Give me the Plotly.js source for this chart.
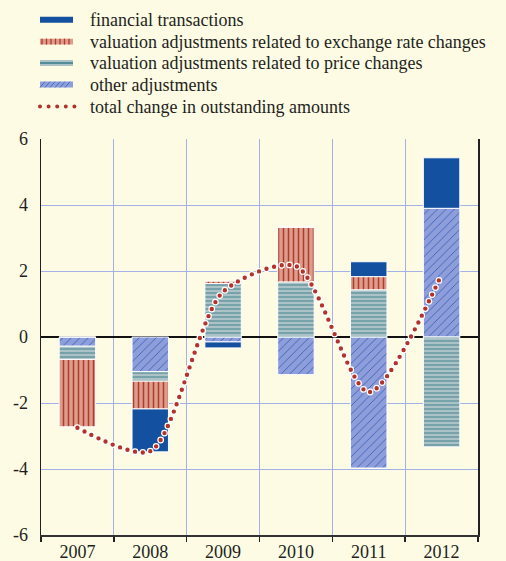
<!DOCTYPE html>
<html>
<head>
<meta charset="utf-8">
<script src="https://cdn.plot.ly/plotly-3.0.1.min.js"></script>
<style>
html,body{margin:0;padding:0;background:#fdfbe4;}
#chart .scatterlayer .js-line{stroke-linecap:round !important;}
</style>
</head>
<body>
<div id="chart" style="width:506px;height:561px;"></div>
<script>
// ---- data ----
const years = ['2007','2008','2009','2010','2011','2012'];
const financialTransactions = [0, -1.30, -0.18, 0, 0.45, 1.53];
const exchangeRateAdj = [-2.04, -0.84, 0.07, 1.66, 0.40, 0];
const priceAdj = [-0.40, -0.29, 1.62, 1.67, 1.43, -3.33];
const otherAdj = [-0.28, -1.05, -0.15, -1.14, -3.97, 3.90];
const totalChange = [-2.75, -3.46, 1.37, 2.15, -1.67, 1.89];
const yTicks = [-6, -4, -2, 0, 2, 4, 6];
const legendLabels = [
  'financial transactions',
  'valuation adjustments related to exchange rate changes',
  'valuation adjustments related to price changes',
  'other adjustments',
  'total change in outstanding amounts'
];

// ---- styles ----
const FONT = 'Liberation Serif, Times New Roman, serif';
const FS = 18;
const TXT = '#231f20';
const BG = '#fdfbe4';
const GRID = '#a3b1e6';
const C_FIN = '#1450a0';
const C_EXB = '#dd9d8c', C_EXF = '#b03a2c';
const C_PRB = '#abc3c6', C_PRF = '#548c98';
const C_OTB = '#8e9edb', C_OTF = '#3a62b8';
const C_TOT = '#b3322a';
const barLine = {color: 'rgba(255,255,255,0.95)', width: 1};

const traces = [
  {type:'bar', x: years, y: otherAdj, width: 0.5, showlegend:false, hoverinfo:'skip',
   marker:{color: C_OTB, line: barLine,
     pattern:{shape:'/', bgcolor:C_OTB, fgcolor:C_OTF, size:6, solidity:0.15}}},
  {type:'bar', x: years, y: priceAdj, width: 0.5, showlegend:false, hoverinfo:'skip',
   marker:{color: C_PRB, line: barLine,
     pattern:{shape:'-', bgcolor:C_PRB, fgcolor:C_PRF, size:4, solidity:0.3}}},
  {type:'bar', x: years, y: exchangeRateAdj, width: 0.5, showlegend:false, hoverinfo:'skip',
   marker:{color: C_EXB, line: barLine,
     pattern:{shape:'|', bgcolor:C_EXB, fgcolor:C_EXF, size:5, solidity:0.3}}},
  {type:'bar', x: years, y: financialTransactions, width: 0.5, showlegend:false, hoverinfo:'skip',
   marker:{color: C_FIN, line: barLine}},
  {type:'scatter', mode:'lines', x: years, y: totalChange, showlegend:false, hoverinfo:'skip',
   line:{color:'#ffffff', width:6.8, shape:'spline', smoothing:0.75, dash:'0px,7.8px'}},
  {type:'scatter', mode:'lines', x: years, y: totalChange, showlegend:false, hoverinfo:'skip',
   line:{color:C_TOT, width:4.4, shape:'spline', smoothing:0.75, dash:'0px,7.8px'}}
];

// ---- custom legend (pixel -> paper) ----
const L = 41, R = 478, T = 139, B = 535.5;
const px = x => (x - L) / (R - L);
const py = y => (B - y) / (B - T);
const rows = [19.5, 41.5, 63, 84.5, 106.5];
const sx0 = 40, sx1 = 73, sh = 3;
const shapes = [];
const rect = (cy, color) => shapes.push({type:'rect', xref:'paper', yref:'paper',
  x0: px(sx0), x1: px(sx1), y0: py(cy + sh), y1: py(cy - sh), fillcolor: color, line:{width:0}, layer:'above'});
const seg = (x0, y0, x1, y1, color, w) => shapes.push({type:'line', xref:'paper', yref:'paper',
  x0: px(x0), y0: py(y0), x1: px(x1), y1: py(y1), line:{color: color, width: w}, layer:'above'});
// financial
rect(rows[0], C_FIN);
// exchange
rect(rows[1], C_EXB);
for (let x = 42; x <= 71; x += 4.5) seg(x, rows[1] - sh, x, rows[1] + sh, C_EXF, 1.3);
// price
rect(rows[2], C_PRB);
seg(sx0, rows[2], sx1, rows[2], C_PRF, 2);
// other
rect(rows[3], C_OTB);
for (let x = 40; x <= 67; x += 5) seg(x, rows[3] + sh, x + 5, rows[3] - sh, C_OTF, 0.8);
// total dots
for (let i = 0; i < 5; i++) {
  const cx = 40 + i * 8.6, cy = rows[4], r = 2;
  shapes.push({type:'circle', xref:'paper', yref:'paper', x0: px(cx - r), x1: px(cx + r),
    y0: py(cy + r), y1: py(cy - r), fillcolor: C_TOT, line:{width:0}, layer:'above'});
}
const annotations = legendLabels.map((t, i) => ({
  xref:'paper', yref:'paper', x: px(88), y: py(rows[i]), xanchor:'left', yanchor:'middle',
  text: t, showarrow:false, font:{family: FONT, size: FS, color: TXT}
}));

const layout = {
  width: 506, height: 561,
  margin: {l: L, r: 506 - R, t: T, b: 561 - B},
  paper_bgcolor: BG, plot_bgcolor: BG,
  barmode: 'relative',
  showlegend: false,
  font: {family: FONT, size: FS, color: TXT},
  xaxis: {type:'category', range:[-0.5, 5.5], tickson:'boundaries',
    showgrid:true, gridcolor: GRID, gridwidth: 1,
    showline:true, linecolor:'#333', linewidth:1.5,
    ticks:'outside', ticklen:5, tickwidth:1.5, tickcolor:'#222',
    tickfont:{family: FONT, size: FS, color: TXT}, fixedrange:true},
  yaxis: {range:[-6, 6], tickvals: yTicks, ticktext: yTicks.map(String),
    showgrid:true, gridcolor: GRID, gridwidth: 1,
    zeroline:true, zerolinecolor:'#111', zerolinewidth:2.5,
    showline:true, mirror:true, linecolor:'#222', linewidth:1.5,
    ticks:'', ticklabelstandoff: 8,
    tickfont:{family: FONT, size: FS, color: TXT}, fixedrange:true},
  yaxis2: {overlaying:'y', side:'right', range:[-6, 6], tickvals: yTicks, ticktext: yTicks.map(String),
    showgrid:false, zeroline:false, showline:false, ticks:'', ticklabelstandoff: 6,
    tickfont:{family: FONT, size: FS, color: TXT}, fixedrange:true},
  shapes: shapes,
  annotations: annotations
};

Plotly.newPlot('chart', traces, layout, {staticPlot:true, displayModeBar:false});
</script>
</body>
</html>
